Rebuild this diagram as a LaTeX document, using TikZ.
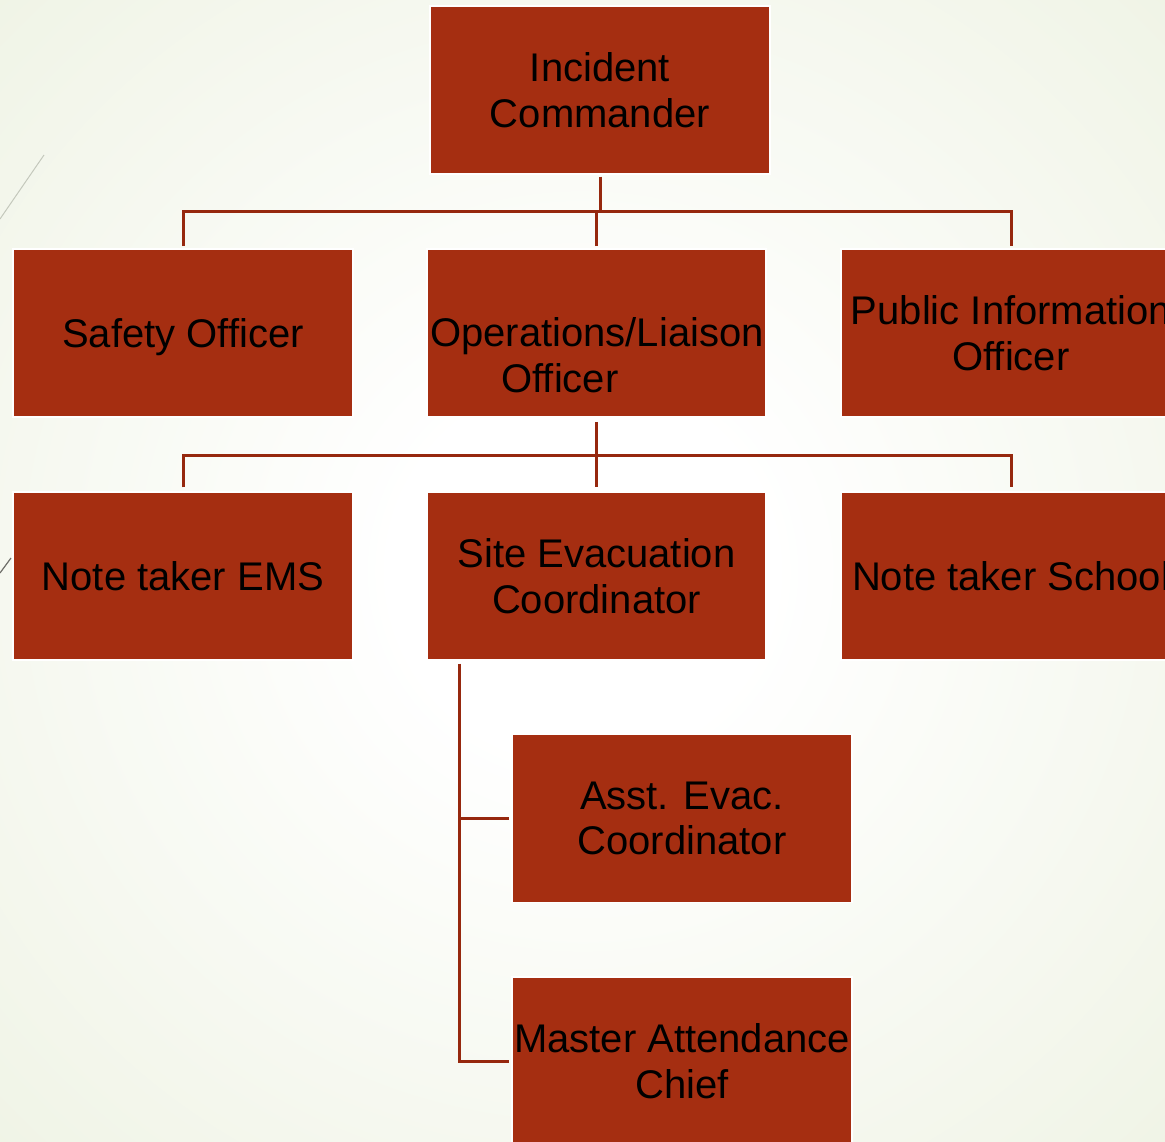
\documentclass[tikz,border=0pt]{standalone}
\usepackage{fontspec}
\setmainfont{Liberation Sans}
\definecolor{boxc}{RGB}{165,46,17}
\definecolor{linec}{RGB}{150,40,14}
\definecolor{bgc}{RGB}{232,238,217}
\definecolor{bgd}{RGB}{226,234,208}
\pgfdeclareradialshading{bgshade}{\pgfpoint{0bp}{0bp}}{color(0bp)=(white); color(8bp)=(white); color(50bp)=(bgc); color(72bp)=(bgd)}
\tikzset{
  box/.style={draw=white, line width=1.5pt, fill=boxc, minimum width=340pt, minimum height=168pt, inner sep=0pt, align=center, text=black, font=\fontsize{40}{45.5}\selectfont},
  txt/.style={inner sep=0pt, align=center, text=black, font=\fontsize{40}{45.5}\selectfont},
  conn/.style={draw=linec, line width=3pt}
}
\begin{document}
\begin{tikzpicture}[x=1pt,y=-1pt]
\useasboundingbox (0,0) rectangle (1165,1142);
\clip (0,0) rectangle (1165,1142);
\shade[shading=bgshade] (0,0) rectangle (1165,1142);
% faint theme lines
\draw[draw={rgb,255:red,196;green,200;blue,188}, line width=1pt] (44,155) -- (0,219);
\draw[draw={rgb,255:red,110;green,110;blue,105}, line width=1.2pt] (11,558) -- (0,573);
% boxes
\node[box] (ic) at (600,90) {Incident\\Commander};
\node[box, text depth=0pt] (safety) at (183,333) {Safety Officer};
\node[box, minimum width=339pt] (ops) at (596.5,333) {};
\node[txt] (opsT) at (597,355) {Operations/Liaison\\Officer\hspace{74pt}\mbox{}};
\node[box] (pio) at (1011,333) {Public Information\\Officer};
\node[box] (ems) at (183,576) {Note taker EMS};
\node[box, minimum width=339pt] (site) at (596.5,576) {Site Evacuation\\Coordinator};
\node[box] (school) at (1011,576) {Note taker School};
\node[box] (asst) at (682,818.5) {Asst. Evac.\\Coordinator};
\node[box] (master) at (682,1061) {Master Attendance\\Chief};
% connectors
\coordinate (b1) at (600,212);
\coordinate (b2) at (597,455);
\draw[conn] ([yshift=-2pt]ic.south) -- (b1);
\draw[conn] ([yshift=2pt]safety.north) -- (safety.north |- b1) -| ([yshift=2pt]pio.north);
\draw[conn] ([yshift=2pt]ops.north) -- (ops.north |- b1);
\draw[conn] ([yshift=-4pt]ops.south) -- ([yshift=4pt]site.north);
\draw[conn] ([yshift=4pt]ems.north) -- (ems.north |- b2) -| ([yshift=4pt]school.north);
\coordinate (s0) at ([xshift=33.5pt,yshift=-3pt]site.south west);
\draw[conn] (s0) |- ([xshift=-2pt]asst.west);
\draw[conn] (s0) |- ([xshift=-2pt]master.west);
\end{tikzpicture}
\end{document}
